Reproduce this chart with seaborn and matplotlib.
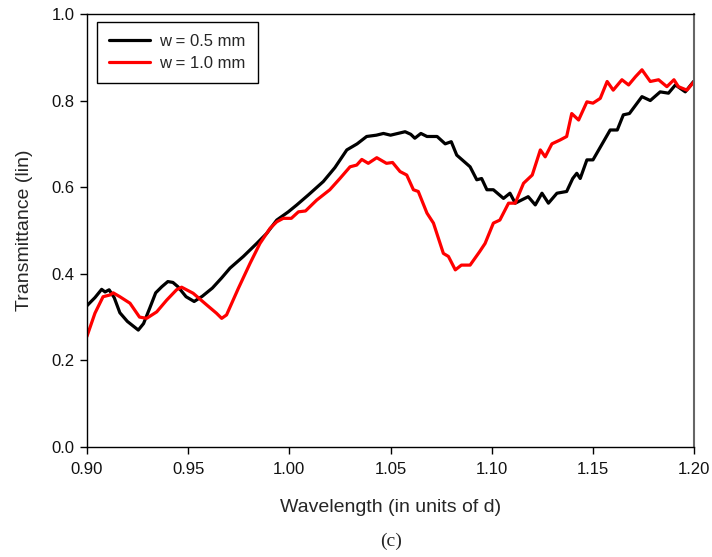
import matplotlib
matplotlib.use("Agg")
import matplotlib.pyplot as plt
import seaborn as sns
import pandas as pd

# ---- data ----
x_w05 = [0.900, 0.904, 0.9073, 0.909, 0.911, 0.9135, 0.9163, 0.920, 0.9254, 0.928,
         0.931, 0.934, 0.937, 0.940, 0.9425, 0.945, 0.949, 0.953, 0.957, 0.962,
         0.9665, 0.9707, 0.9773, 0.9839, 0.9888, 0.9938, 0.9995, 1.0037, 1.0094, 1.0168,
         1.0225, 1.0284, 1.0335, 1.0382, 1.0430, 1.0465, 1.0500, 1.0572, 1.0600, 1.062,
         1.065, 1.068, 1.073, 1.077, 1.080, 1.0827, 1.0893, 1.0926, 1.0950, 1.0976,
         1.1008, 1.1058, 1.109, 1.1116, 1.118, 1.1215, 1.1248, 1.128, 1.1322, 1.137,
         1.140, 1.142, 1.1437, 1.147, 1.150, 1.1585, 1.162, 1.165, 1.168, 1.1742,
         1.1783, 1.1832, 1.1873, 1.1907, 1.1956, 1.1997]
y_w05 = [0.326, 0.345, 0.364, 0.358, 0.363, 0.345, 0.310, 0.290, 0.270, 0.285,
         0.320, 0.356, 0.370, 0.382, 0.380, 0.370, 0.347, 0.336, 0.348, 0.367,
         0.390, 0.413, 0.440, 0.470, 0.493, 0.524, 0.543, 0.559, 0.582, 0.613,
         0.645, 0.686, 0.700, 0.717, 0.720, 0.724, 0.720, 0.728, 0.722, 0.713,
         0.724, 0.717, 0.717, 0.700, 0.705, 0.674, 0.647, 0.617, 0.620, 0.594,
         0.594, 0.574, 0.586, 0.563, 0.578, 0.559, 0.586, 0.563, 0.586, 0.590,
         0.620, 0.632, 0.620, 0.663, 0.663, 0.732, 0.732, 0.767, 0.770, 0.809,
         0.800, 0.820, 0.817, 0.836, 0.820, 0.844]

x_w10 = [0.900, 0.904, 0.908, 0.9114, 0.913, 0.9163, 0.9213, 0.926, 0.9295, 0.9345,
         0.9394, 0.9443, 0.9468, 0.9525, 0.9592, 0.964, 0.9666, 0.969, 0.9748, 0.9806,
         0.9855, 0.9905, 0.9938, 0.997, 1.001, 1.0045, 1.0080, 1.0135, 1.020, 1.025,
         1.030, 1.0333, 1.0358, 1.039, 1.0432, 1.048, 1.051, 1.0547, 1.058, 1.0613,
         1.0637, 1.068, 1.0712, 1.0761, 1.0786, 1.082, 1.085, 1.0893, 1.094, 1.0967,
         1.1008, 1.104, 1.1083, 1.1116, 1.1157, 1.120, 1.124, 1.1264, 1.1297, 1.1338,
         1.137, 1.1395, 1.1429, 1.147, 1.150, 1.1536, 1.157, 1.160, 1.1643, 1.1676,
         1.171, 1.1742, 1.1783, 1.1824, 1.1865, 1.190, 1.1922, 1.1964, 1.200]
y_w10 = [0.255, 0.309, 0.347, 0.351, 0.356, 0.347, 0.332, 0.300, 0.297, 0.312,
         0.339, 0.363, 0.369, 0.355, 0.328, 0.309, 0.297, 0.305, 0.366, 0.424,
         0.470, 0.505, 0.520, 0.528, 0.528, 0.543, 0.545, 0.570, 0.594, 0.620,
         0.647, 0.651, 0.664, 0.655, 0.668, 0.655, 0.657, 0.636, 0.628, 0.594,
         0.590, 0.540, 0.517, 0.447, 0.440, 0.409, 0.420, 0.420, 0.451, 0.470,
         0.517, 0.524, 0.563, 0.563, 0.609, 0.628, 0.686, 0.670, 0.700, 0.709,
         0.717, 0.770, 0.755, 0.797, 0.794, 0.805, 0.844, 0.824, 0.848, 0.836,
         0.855, 0.871, 0.844, 0.848, 0.832, 0.848, 0.832, 0.824, 0.844]

series_labels = ["w = 0.5 mm", "w = 1.0 mm"]
x_ticks = [0.90, 0.95, 1.00, 1.05, 1.10, 1.15, 1.20]
y_ticks = [0.0, 0.2, 0.4, 0.6, 0.8, 1.0]

df = pd.concat([
    pd.DataFrame({"x": x_w05, "y": y_w05, "series": series_labels[0]}),
    pd.DataFrame({"x": x_w10, "y": y_w10, "series": series_labels[1]}),
], ignore_index=True)

sns.set_style("ticks")
plt.rcParams["font.family"] = ["Liberation Sans", "DejaVu Sans"]

fig = plt.figure(figsize=(7.12, 5.57), dpi=100)
ax = fig.add_axes([0.122, 0.1975, 0.853, 0.7775])

sns.lineplot(data=df, x="x", y="y", hue="series", sort=False,
             palette={series_labels[0]: "#000000", series_labels[1]: "#ff0000"},
             linewidth=2.3, ax=ax)

ax.set_xlim(0.90, 1.20)
ax.set_ylim(0.0, 1.0)
ax.set_xticks(x_ticks)
ax.set_xticklabels([f"{v:.2f}" for v in x_ticks])
ax.set_yticks(y_ticks)
ax.set_yticklabels([f"{v:.1f}" for v in y_ticks])
ax.tick_params(direction="out", length=5, width=1, labelsize=12, color="black",
               labelcolor="#111111", pad=4)
ax.tick_params(axis="x", pad=6)

for side in ["left", "bottom", "top"]:
    ax.spines[side].set_color("black")
    ax.spines[side].set_linewidth(1.0)
ax.spines["right"].set_color("#666666")
ax.spines["right"].set_linewidth(1.5)

ax.set_xlabel("Wavelength (in units of d)", fontsize=14, labelpad=16)
ax.set_ylabel("Transmittance (lin)", fontsize=14, labelpad=13)

leg = ax.legend(loc="upper left", bbox_to_anchor=(0.0165, 0.982), borderaxespad=0,
                fontsize=12, frameon=True, fancybox=False, handlelength=2.45,
                handletextpad=0.55, borderpad=0.75, labelspacing=0.4)
leg.get_frame().set_edgecolor("black")
leg.get_frame().set_linewidth(1.0)
leg.get_frame().set_alpha(1)
for line in leg.get_lines():
    line.set_linewidth(2.3)

fig.text(0.549, 0.028, "(c)", fontsize=14, family=["Liberation Serif", "DejaVu Serif"],
         ha="center", va="center")

fig.savefig("out.png", dpi=100)
